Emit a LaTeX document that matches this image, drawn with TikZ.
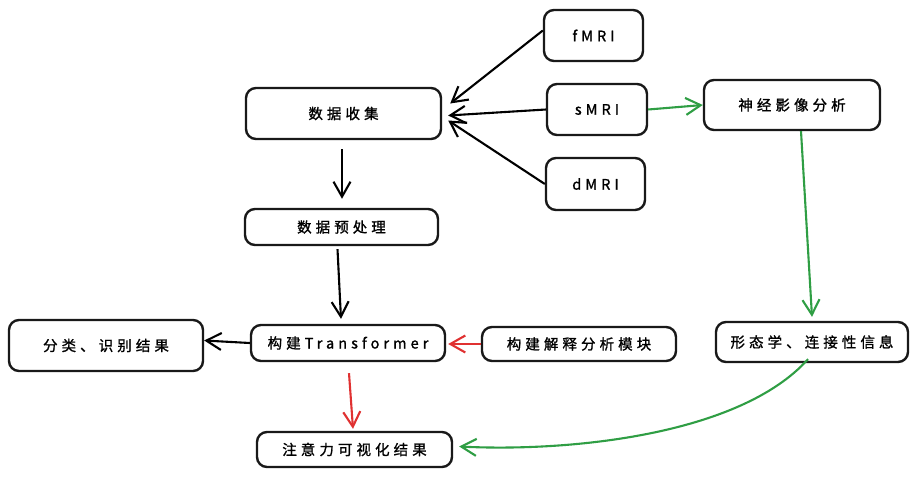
\documentclass[tikz,border=0pt]{standalone}
\usepackage{fontspec}
\setmainfont{Noto Sans CJK SC}[LetterSpace=28,FakeBold=1.2]
\usetikzlibrary{arrows.meta,calc}
\definecolor{exgreen}{RGB}{47,158,68}
\definecolor{exred}{RGB}{224,49,49}
\begin{document}
\begin{tikzpicture}[x=1pt,y=-1pt,
  box/.style={draw=black!90,line width=2.4pt,rounded corners=10pt,align=center,font=\fontsize{14.5}{16}\selectfont,inner sep=0pt},
  arr/.style={line width=2.1pt,-{Straight Barb[length=15pt,width=17pt,line width=2.1pt]}},
  garr/.style={arr,draw=exgreen},
  rarr/.style={arr,draw=exred}]
\useasboundingbox (0,0) rectangle (920,477);
\fill[white] (0,0) rectangle (920,477);
\node[box,minimum width=195pt,minimum height=51pt] (collect) at (343.5,113.5) {数据收集};
\node[box,minimum width=99pt,minimum height=51pt] (fmri) at (593.5,35.5) {fMRI};
\node[box,minimum width=100pt,minimum height=51pt] (smri) at (597,109.5) {sMRI};
\node[box,minimum width=99pt,minimum height=52pt] (dmri) at (595.5,184) {dMRI};
\node[box,minimum width=176pt,minimum height=50pt] (neuro) at (792,105) {神经影像分析};
\node[box,minimum width=193pt,minimum height=36pt] (pre) at (341.5,227) {数据预处理};
\node[box,minimum width=194pt,minimum height=51pt] (cls) at (106,345.5) {分类、识别结果};
\node[box,minimum width=194pt,minimum height=36pt] (trans) at (348,343) {构建Transformer};
\node[box,minimum width=194pt,minimum height=34pt] (interp) at (579,344) {构建解释分析模块};
\node[box,minimum width=192pt,minimum height=40pt] (morph) at (812,342) {形态学、连接性信息};
\node[box,minimum width=195pt,minimum height=35pt] (attn) at (354.5,449.5) {注意力可视化结果};
% connectors
\draw[arr] ($(fmri.west)+(0,-5)$) -- ($(collect.east)+(8,-10)$);
\draw[arr] (smri.west) -- ($(collect.east)+(6,2)$);
\draw[arr] (dmri.west) -- ($(collect.east)+(6,7)$);
\draw[garr] (smri.east) -- (neuro.west);
\draw[arr] ($(collect.south)+(-1.5,9)$) -- ($(pre.north)+(0.5,-9)$);
\draw[arr] ($(pre.south)+(-4,3)$) -- ($(trans.north)+(-7,-5)$);
\draw[arr] (trans.west) -- ($(cls.east)+(0,-5)$);
\draw[rarr] (interp.west) -- ($(trans.east)+(2,1)$);
\draw[rarr] ($(trans.south)+(1,11)$) -- ($(attn.north)+(-1.5,-2)$);
\draw[garr] ($(neuro.south)+(9,0)$) -- ($(morph.north)+(0,-4)$);
\draw[garr] ($(morph.south)+(-4,-4)$) .. controls (740,435) and (570,452) .. ($(attn.east)+(6,-3)$);
\end{tikzpicture}
\end{document}
